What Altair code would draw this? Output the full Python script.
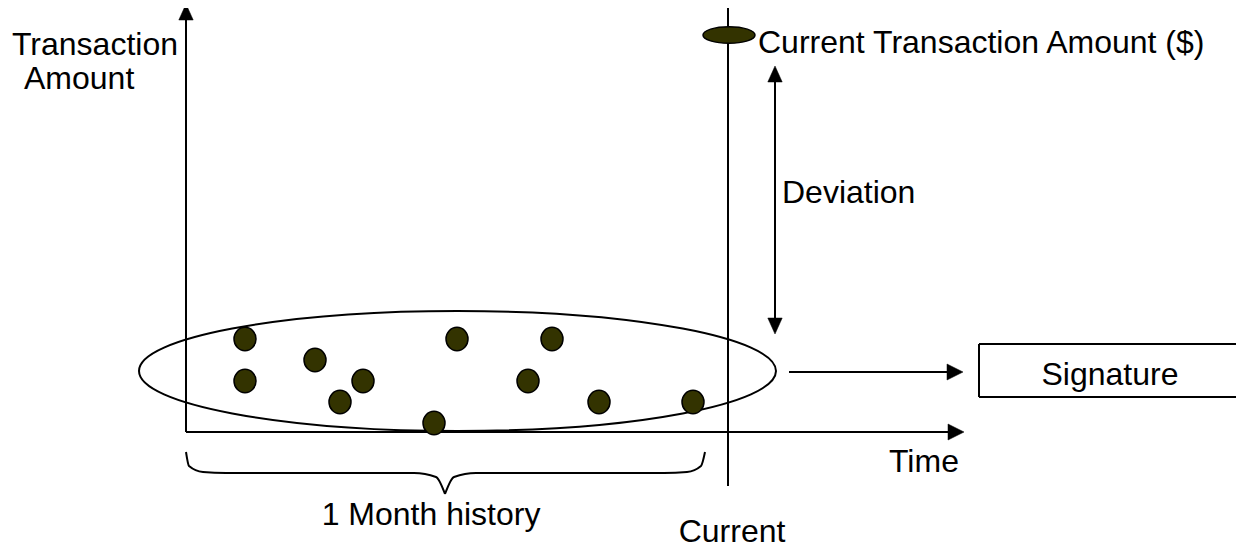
import altair as alt
import pandas as pd

FONT = "Liberation Sans"
OLIVE = "#333300"

# ---- data (positions, in page pixels) ----
hist_x = [245, 245, 315, 363, 340, 434, 457, 552, 528, 599, 693]
hist_y = [339, 381, 360, 381, 402, 423, 339, 339, 381, 402, 402]

cur_x = [729]
cur_y = [35]

ring_x = [457.5]
ring_y = [371]

seg_x1 = [186, 186, 728, 775, 789, 979, 979, 979]
seg_y1 = [432, 432, 0, 76, 372, 344, 344, 397]
seg_x2 = [186, 952, 728, 775, 952, 979, 1245, 1245]
seg_y2 = [16, 432, 486, 322, 372, 397, 344, 397]

up_x = [186, 775]
up_y = [4, 66]
down_x = [775]
down_y = [334]
right_x = [964, 963]
right_y = [432, 372]

brace_x = [186, 189, 203, 226, 414, 436, 445,
           445, 454, 476, 664, 687, 701, 705]
brace_y = [452, 466, 472, 473, 473, 477, 494,
           494, 477, 473, 473, 472, 466, 452]
brace_part = ["l"] * 7 + ["r"] * 7

txt = ["Transaction", "Amount", "Current Transaction Amount ($)", "Deviation",
       "Time", "Signature", "1 Month history", "Current"]
txt_x = [12, 24, 758, 782, 889, 1110, 431, 732]
txt_y = [55, 89, 53, 203, 472, 385, 525, 542]
txt_align = ["left", "left", "left", "left", "left", "center", "center", "center"]


def ellipse_path(b):
    k = 0.5523
    return (f"M-1,0 C-1,{-k*b} {-k},{-b} 0,{-b} C{k},{-b} 1,{-k*b} 1,0 "
            f"C1,{k*b} {k},{b} 0,{b} C{-k},{b} -1,{k*b} -1,0 Z")


HEAD_UP = "M0,0 L0.45,1 L-0.45,1 Z"
HEAD_DOWN = "M0,0 L0.45,-1 L-0.45,-1 Z"
HEAD_RIGHT = "M0,0 L-1,-0.5 L-1,0.5 Z"

xs = alt.Scale(domain=[8, 1236], nice=False, zero=False)
ys = alt.Scale(domain=[8, 550], nice=False, zero=False, reverse=True)


def X(f="x"):
    return alt.X(f"{f}:Q", scale=xs, axis=None)


def Y(f="y"):
    return alt.Y(f"{f}:Q", scale=ys, axis=None)


segs = pd.DataFrame({"x": seg_x1, "y": seg_y1, "x2": seg_x2, "y2": seg_y2})
rules = alt.Chart(segs).mark_rule(color="black", strokeWidth=2).encode(
    x=X(), y=Y(), x2="x2:Q", y2="y2:Q")

brace = alt.Chart(pd.DataFrame({"x": brace_x, "y": brace_y, "part": brace_part,
                                "o": list(range(len(brace_x)))})).mark_line(
    color="black", strokeWidth=2, interpolate="monotone").encode(
    x=X(), y=Y(), detail="part:N", order="o:Q")


def heads(xv, yv, path):
    # path spans 0..1 in the pointing direction -> length = sqrt(size)/2
    return alt.Chart(pd.DataFrame({"x": xv, "y": yv})).mark_point(
        shape=path, size=32 ** 2, filled=True, fill="black", stroke="black",
        strokeWidth=0.5, opacity=1).encode(x=X(), y=Y())


ring = alt.Chart(pd.DataFrame({"x": ring_x, "y": ring_y})).mark_point(
    shape=ellipse_path(60 / 318.5), size=637 ** 2, filled=False,
    stroke="black", strokeWidth=2, opacity=1).encode(x=X(), y=Y())

dots = alt.Chart(pd.DataFrame({"x": hist_x, "y": hist_y})).mark_point(
    shape=ellipse_path(1.06), size=22 ** 2, filled=True, fill=OLIVE,
    stroke="black", strokeWidth=1.5, opacity=1).encode(x=X(), y=Y())

cur = alt.Chart(pd.DataFrame({"x": cur_x, "y": cur_y})).mark_point(
    shape=ellipse_path(0.32), size=52 ** 2, filled=True, fill=OLIVE,
    stroke="black", strokeWidth=1.5, opacity=1).encode(x=X(), y=Y())

tdf = pd.DataFrame({"t": txt, "x": txt_x, "y": txt_y, "a": txt_align})
texts = []
for al in ["left", "center"]:
    texts.append(alt.Chart(tdf[tdf.a == al]).mark_text(
        align=al, baseline="alphabetic", font=FONT, fontSize=32,
        color="black").encode(x=X(), y=Y(), text="t:N"))

chart = alt.layer(
    rules, brace, ring, dots, cur,
    heads(up_x, up_y, HEAD_UP), heads(down_x, down_y, HEAD_DOWN),
    heads(right_x, right_y, HEAD_RIGHT), *texts
).properties(
    width=1228, height=542, padding=0,
    autosize=alt.AutoSizeParams(type="none"), background="white"
).configure_view(stroke=None)

chart.save("out.html", embed_options={"renderer": "svg", "actions": False})
